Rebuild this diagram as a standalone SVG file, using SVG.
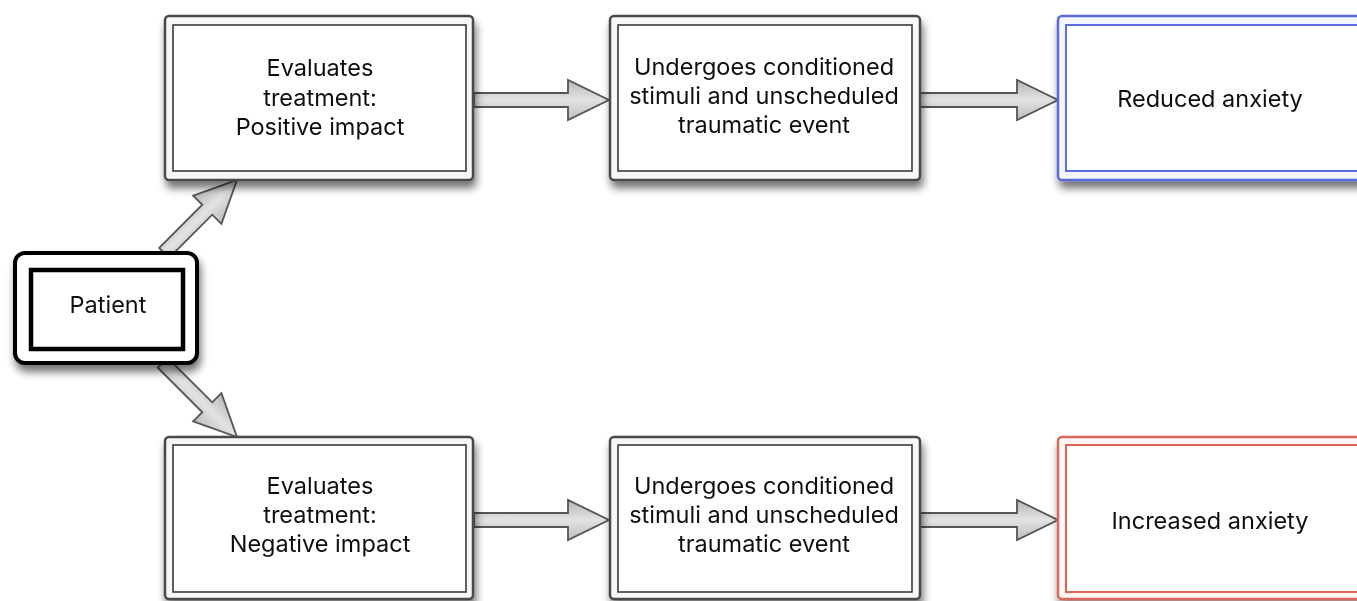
<svg xmlns="http://www.w3.org/2000/svg" width="1357" height="601" viewBox="0 0 1357 601">
<defs>
<filter id="sh" x="-10%" y="-10%" width="125%" height="130%">
<feGaussianBlur in="SourceAlpha" stdDeviation="4.5"/>
<feOffset dx="2" dy="7" result="b"/>
<feComponentTransfer><feFuncA type="linear" slope="0.55"/></feComponentTransfer>
<feMerge><feMergeNode/><feMergeNode in="SourceGraphic"/></feMerge>
</filter>
<linearGradient id="ag" x1="0" y1="0" x2="0" y2="1">
<stop offset="0" stop-color="#b5b5b5"/>
<stop offset="0.5" stop-color="#e3e3e3"/>
<stop offset="1" stop-color="#bcbcbc"/>
</linearGradient>
</defs>
<style>
text{font-family:Inter,"Open Sans","Liberation Sans",sans-serif;font-size:23.5px;fill:#111;text-anchor:middle}
.outer{fill:#f7f7f7;stroke:#4a4a4a;stroke-width:2.5}
.inner{fill:#fff;stroke:#3a3a3a;stroke-width:1.6}
.arr{fill:url(#ag);stroke:#555;stroke-width:1.8;stroke-linejoin:miter}
</style>
<rect width="1357" height="601" fill="#fff"/>
<g id="connectors">
<g transform="translate(237,180) rotate(-45)"><polygon class="arr" points="-103,-7 -42,-7 -42,-20 0,0 -42,20 -42,7 -103,7"/></g>
<g transform="translate(237,437) rotate(45)"><polygon class="arr" points="-105,-7 -42,-7 -42,-20 0,0 -42,20 -42,7 -105,7"/></g>
<polygon class="arr" points="474,93 568,93 568,80 609,100 568,120 568,107 474,107"/>
<polygon class="arr" points="920,93 1017,93 1017,80 1058,100 1017,120 1017,107 920,107"/>
<polygon class="arr" points="474,513 568,513 568,500 609,520 568,540 568,527 474,527"/>
<polygon class="arr" points="920,513 1017,513 1017,500 1058,520 1017,540 1017,527 920,527"/>
</g>
<g id="patient" filter="url(#sh)">
<rect x="15" y="253" width="182" height="110" rx="10" fill="#fff" stroke="#000" stroke-width="4"/>
<rect x="31" y="270" width="152" height="79" fill="#fff" stroke="#000" stroke-width="4.5"/>
<text x="108" y="313">Patient</text>
</g>
<g id="eval-pos" filter="url(#sh)">
<rect class="outer" x="165" y="16" width="308" height="164" rx="4"/>
<rect class="inner" x="173" y="25" width="293" height="146"/>
<text x="320" y="76">Evaluates</text>
<text x="320" y="106">treatment:</text>
<text x="320" y="135">Positive impact</text>
</g>
<g id="undergo-top" filter="url(#sh)">
<rect class="outer" x="610" y="16" width="310" height="164" rx="4"/>
<rect class="inner" x="618" y="25" width="294" height="146"/>
<text x="764" y="75">Undergoes conditioned</text>
<text x="764" y="104">stimuli and unscheduled</text>
<text x="764" y="133">traumatic event</text>
</g>
<g id="reduced" filter="url(#sh)">
<rect x="1058" y="16" width="310" height="164" rx="4" fill="#f4f6ff" stroke="#5a6ad8" stroke-width="2.5"/>
<rect x="1066" y="25" width="300" height="146" fill="#fff" stroke="#4a5fe0" stroke-width="1.8"/>
<text x="1210" y="107">Reduced anxiety</text>
</g>
<g id="eval-neg" filter="url(#sh)">
<rect class="outer" x="165" y="437" width="308" height="162" rx="4"/>
<rect class="inner" x="173" y="445" width="293" height="147"/>
<text x="320" y="494">Evaluates</text>
<text x="320" y="523">treatment:</text>
<text x="320" y="552">Negative impact</text>
</g>
<g id="undergo-bottom" filter="url(#sh)">
<rect class="outer" x="610" y="437" width="310" height="162" rx="4"/>
<rect class="inner" x="618" y="445" width="294" height="147"/>
<text x="764" y="494">Undergoes conditioned</text>
<text x="764" y="523">stimuli and unscheduled</text>
<text x="764" y="552">traumatic event</text>
</g>
<g id="increased" filter="url(#sh)">
<rect x="1058" y="437" width="310" height="162" rx="4" fill="#fff6f4" stroke="#d86a60" stroke-width="2.5"/>
<rect x="1066" y="445" width="300" height="147" fill="#fff" stroke="#d9574c" stroke-width="1.8"/>
<text x="1210" y="529">Increased anxiety</text>
</g>
</svg>
